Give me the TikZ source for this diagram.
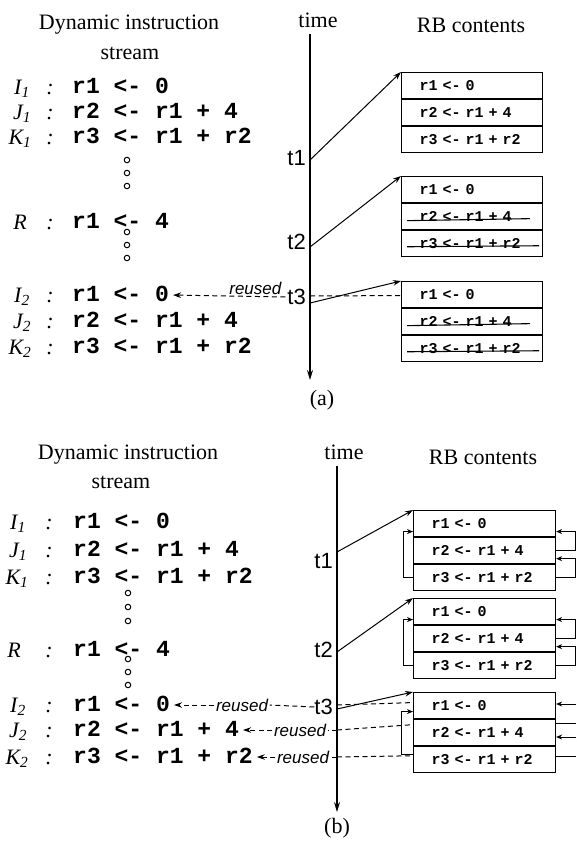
\documentclass[tikz,border=0pt]{standalone}
\usepackage{fontspec}
\setmainfont{Liberation Serif}
\newfontfamily\codef{Liberation Mono}
\newfontfamily\sansf{Liberation Sans}
\usetikzlibrary{arrows.meta,calc}
\begin{document}
\begin{tikzpicture}[x=1pt,y=-1pt,
 lbl/.style={font=\fontsize{22}{24}\selectfont,inner sep=0pt},
 inslab/.style={font=\itshape\fontsize{22}{24}\selectfont,inner sep=0pt,text height=14pt,text depth=0pt},
 code/.style={font=\codef\bfseries\fontsize{23}{25}\selectfont,inner sep=0pt,anchor=west,text height=13pt,text depth=0pt},
 tlab/.style={font=\sansf\fontsize{22}{24}\selectfont,inner sep=0pt,anchor=east,text height=15pt,text depth=0pt},
 reu/.style={font=\sansf\itshape\fontsize{17}{19}\selectfont,inner sep=1.5pt},
 dotc/.style={circle,draw,line width=1pt,minimum size=5.5pt,inner sep=0pt},
 arr/.style={-{Stealth[length=8pt,width=5.5pt]},line width=1pt},
 larr/.style={-{Stealth[length=6pt,width=5pt]},line width=1pt},
 dsh/.style={dash pattern=on 5pt off 3.5pt,line width=1pt},
 taxis/.style={-{Stealth[length=10pt,width=6pt]},line width=1.3pt},
 rbrow/.style={draw,line width=1.1pt,minimum height=26pt,inner xsep=0pt,inner ysep=0pt,align=left,anchor=north west,font=\codef\bfseries\fontsize{15}{16}\selectfont,text height=9pt,text depth=0pt},
 strike/.style={line width=1.1pt}
]
\useasboundingbox (0,0) rectangle (576,841);

% ================= (a) =================
\node[lbl] (ha1) at (129,25) {Dynamic instruction};
\node[lbl] (ha2) at (130,53) {stream};
\node[lbl] (hta) at (318,20) {time};
\node[lbl] (hra) at (471,25) {RB contents};
\coordinate (axa0) at (310,34);
\coordinate (axa1) at (310,380);
\draw[taxis] (axa0) -- (axa1);
\node[lbl] (capa) at (322,400) {(a)};

\node[inslab] (lIa) at (22,87) {I\textsubscript{1}};
\node[inslab] (cIa) at (50,87) {:};
\node[code] (xIa) at (72,87) {r1 <- 0};
\node[inslab] (lJa) at (22,112) {J\textsubscript{1}};
\node[inslab] (cJa) at (50,112) {:};
\node[code] (xJa) at (72,112) {r2 <- r1 + 4};
\node[inslab] (lKa) at (20,137) {K\textsubscript{1}};
\node[inslab] (cKa) at (50,137) {:};
\node[code] (xKa) at (72,137) {r3 <- r1 + r2};
\node[dotc] (da1) at (127,160) {};
\node[dotc] (da2) at (127,173) {};
\node[dotc] (da3) at (127,186) {};
\node[inslab] (lRa) at (20,222) {R};
\node[inslab] (cRa) at (50,222) {:};
\node[code] (xRa) at (72,222) {r1 <- 4};
\node[dotc] (da4) at (127,232) {};
\node[dotc] (da5) at (127,245) {};
\node[dotc] (da6) at (127,258) {};
\node[inslab] (lI2a) at (22,295) {I\textsubscript{2}};
\node[inslab] (cI2a) at (50,295) {:};
\node[code] (xI2a) at (72,295) {r1 <- 0};
\node[inslab] (lJ2a) at (22,321) {J\textsubscript{2}};
\node[inslab] (cJ2a) at (50,321) {:};
\node[code] (xJ2a) at (72,321) {r2 <- r1 + 4};
\node[inslab] (lK2a) at (20,347) {K\textsubscript{2}};
\node[inslab] (cK2a) at (50,347) {:};
\node[code] (xK2a) at (72,347) {r3 <- r1 + r2};

% RB boxes (a)
\node[rbrow,text width=141pt] (a1r1) at (401,72) {\hspace*{18pt}r1 <- 0};
\node[rbrow,text width=141pt] (a1r2) at (a1r1.south west) {\hspace*{18pt}r2 <- r1 + 4};
\node[rbrow,text width=141pt] (a1r3) at (a1r2.south west) {\hspace*{18pt}r3 <- r1 + r2};
\node[rbrow,text width=141pt] (a2r1) at (401,176) {\hspace*{18pt}r1 <- 0};
\node[rbrow,text width=141pt] (a2r2) at (a2r1.south west) {\hspace*{18pt}r2 <- r1 + 4};
\node[rbrow,text width=141pt] (a2r3) at (a2r2.south west) {\hspace*{18pt}r3 <- r1 + r2};
\node[rbrow,text width=141pt] (a3r1) at (401,281) {\hspace*{18pt}r1 <- 0};
\node[rbrow,text width=141pt] (a3r2) at (a3r1.south west) {\hspace*{18pt}r2 <- r1 + 4};
\node[rbrow,text width=141pt] (a3r3) at (a3r2.south west) {\hspace*{18pt}r3 <- r1 + r2};
\draw[strike] ($(a2r2.west)+(6,4)$) -- ($(a2r2.west)+(129,2)$);
\draw[strike] ($(a2r3.west)+(6,3)$) -- ($(a2r3.west)+(138,2)$);
\draw[strike] ($(a3r2.west)+(6,4)$) -- ($(a3r2.west)+(129,2)$);
\draw[strike] ($(a3r3.west)+(6,3)$) -- ($(a3r3.west)+(138,2)$);

% time points (a)
\node[tlab] (t1a) at (306,158) {t1};
\node[tlab] (t2a) at (306,242) {t2};
\node[tlab] (t3a) at (306,297) {t3};
\coordinate (p1a) at (310,160);
\coordinate (p2a) at (310,247);
\coordinate (p3a) at (310,303);
\coordinate (q3a) at (310,296);
\draw[arr] (p1a) -- (a1r1.north west);
\draw[arr] (p2a) -- (a2r1.north west);
\draw[arr] (p3a) -- (a3r1.north west);
\draw[dsh] (q3a) -- ($(a3r1.west)+(0,1)$);
\draw[dsh,arr,shorten <=2pt,shorten >=4pt] (t3a.west) -- node[reu,above,pos=0.27] (ra) {reused} (xI2a.east);

% ================= (b) =================
\node[lbl] (hb1) at (128,455) {Dynamic instruction};
\node[lbl] (hb2) at (121,482) {stream};
\node[lbl] (htb) at (344,452) {time};
\node[lbl] (hrb) at (483,457) {RB contents};
\coordinate (axb0) at (337,466);
\coordinate (axb1) at (337,812);
\draw[taxis] (axb0) -- (axb1);
\node[lbl] (capb) at (337,828) {(b)};

\node[inslab] (lIb) at (18,522) {I\textsubscript{1}};
\node[inslab] (cIb) at (49,522) {:};
\node[code] (xIb) at (73,522) {r1 <- 0};
\node[inslab] (lJb) at (18,550) {J\textsubscript{1}};
\node[inslab] (cJb) at (49,550) {:};
\node[code] (xJb) at (73,550) {r2 <- r1 + 4};
\node[inslab] (lKb) at (17,577) {K\textsubscript{1}};
\node[inslab] (cKb) at (49,577) {:};
\node[code] (xKb) at (73,577) {r3 <- r1 + r2};
\node[dotc] (db1) at (128,593) {};
\node[dotc] (db2) at (128,607) {};
\node[dotc] (db3) at (128,621) {};
\node[inslab] (lRb) at (14,650) {R};
\node[inslab] (cRb) at (49,650) {:};
\node[code] (xRb) at (73,650) {r1 <- 4};
\node[dotc] (db4) at (128,659) {};
\node[dotc] (db5) at (128,672) {};
\node[dotc] (db6) at (128,685) {};
\node[inslab] (lI2b) at (18,705) {I\textsubscript{2}};
\node[inslab] (cI2b) at (49,705) {:};
\node[code] (xI2b) at (73,705) {r1 <- 0};
\node[inslab] (lJ2b) at (18,730) {J\textsubscript{2}};
\node[inslab] (cJ2b) at (49,730) {:};
\node[code] (xJ2b) at (73,730) {r2 <- r1 + 4};
\node[inslab] (lK2b) at (17,757) {K\textsubscript{2}};
\node[inslab] (cK2b) at (49,757) {:};
\node[code] (xK2b) at (73,757) {r3 <- r1 + r2};

% RB boxes (b)
\node[rbrow,text width=142pt] (c1r1) at (413,510) {\hspace*{18pt}r1 <- 0};
\node[rbrow,text width=142pt] (c1r2) at (c1r1.south west) {\hspace*{18pt}r2 <- r1 + 4};
\node[rbrow,text width=142pt] (c1r3) at (c1r2.south west) {\hspace*{18pt}r3 <- r1 + r2};
\node[rbrow,text width=142pt] (c2r1) at (413,598) {\hspace*{18pt}r1 <- 0};
\node[rbrow,text width=142pt] (c2r2) at (c2r1.south west) {\hspace*{18pt}r2 <- r1 + 4};
\node[rbrow,text width=142pt] (c2r3) at (c2r2.south west) {\hspace*{18pt}r3 <- r1 + r2};
\node[rbrow,text width=142pt] (c3r1) at (413,692) {\hspace*{18pt}r1 <- 0};
\node[rbrow,text width=142pt] (c3r2) at (c3r1.south west) {\hspace*{18pt}r2 <- r1 + 4};
\node[rbrow,text width=142pt] (c3r3) at (c3r2.south west) {\hspace*{18pt}r3 <- r1 + r2};

% feedback loops
\draw[larr] (c1r3.west) -- ++(-10,0) |- ($(c1r1.west)+(0,8)$);
\draw[larr] (c1r2.east) -- ++(19,0) |- ($(c1r1.east)+(0,8)$);
\draw[larr] (c1r3.east) -- ++(19,0) |- ($(c1r2.east)+(0,8)$);
\draw[larr] (c2r3.west) -- ++(-10,0) |- ($(c2r1.west)+(0,8)$);
\draw[larr] (c2r2.east) -- ++(19,0) |- ($(c2r1.east)+(0,8)$);
\draw[larr] (c2r3.east) -- ++(19,0) |- ($(c2r2.east)+(0,8)$);
\draw[larr] ($(c3r3.west)+(0,-5)$) -- ++(-12,0) |- ($(c3r1.west)+(0,6)$);
\coordinate (e1) at (576,704);
\coordinate (e2) at (576,723);
\coordinate (e3) at (576,737);
\coordinate (e4) at (576,756);
\draw[larr] (e1) -- (c3r1.east |- e1);
\draw[line width=1pt] (c3r2.east |- e2) -- (e2);
\draw[larr] (e3) -- (c3r2.east |- e3);
\draw[line width=1pt] (c3r3.east |- e4) -- (e4);

% time points (b)
\node[tlab] (t1b) at (333,561) {t1};
\node[tlab] (t2b) at (333,650) {t2};
\node[tlab] (t3b) at (333,707) {t3};
\coordinate (p1b) at (337,552);
\coordinate (p2b) at (337,652);
\coordinate (p3b) at (337,709);
\coordinate (q1b) at (337,705);
\coordinate (q2b) at (337,730);
\coordinate (q3b) at (337,757);
\draw[arr] (p1b) -- (c1r1.north west);
\draw[arr] (p2b) -- (c2r1.north west);
\draw[arr] (p3b) -- (c3r1.north west);
\draw[dsh] (q1b) -- ($(c3r1.west)+(0,-3)$);
\draw[dsh] (q2b) -- ($(c3r2.west)+(0,-8)$);
\draw[dsh] (q3b) -- ($(c3r3.west)+(0,-4)$);

\node[reu] (rb1) at (242,705) {reused};
\node[reu] (rb2) at (300,730) {reused};
\node[reu] (rb3) at (303,757) {reused};
\draw[dsh] (t3b.west) -- (rb1.east);
\draw[dsh,arr,shorten >=4pt] (rb1.west) -- (xI2b.east);
\draw[dsh] (q2b) -- (rb2.east);
\draw[dsh,arr,shorten >=4pt] (rb2.west) -- (xJ2b.east);
\draw[dsh] (q3b) -- (rb3.east);
\draw[dsh,arr,shorten >=4pt] (rb3.west) -- (xK2b.east);
\end{tikzpicture}
\end{document}
